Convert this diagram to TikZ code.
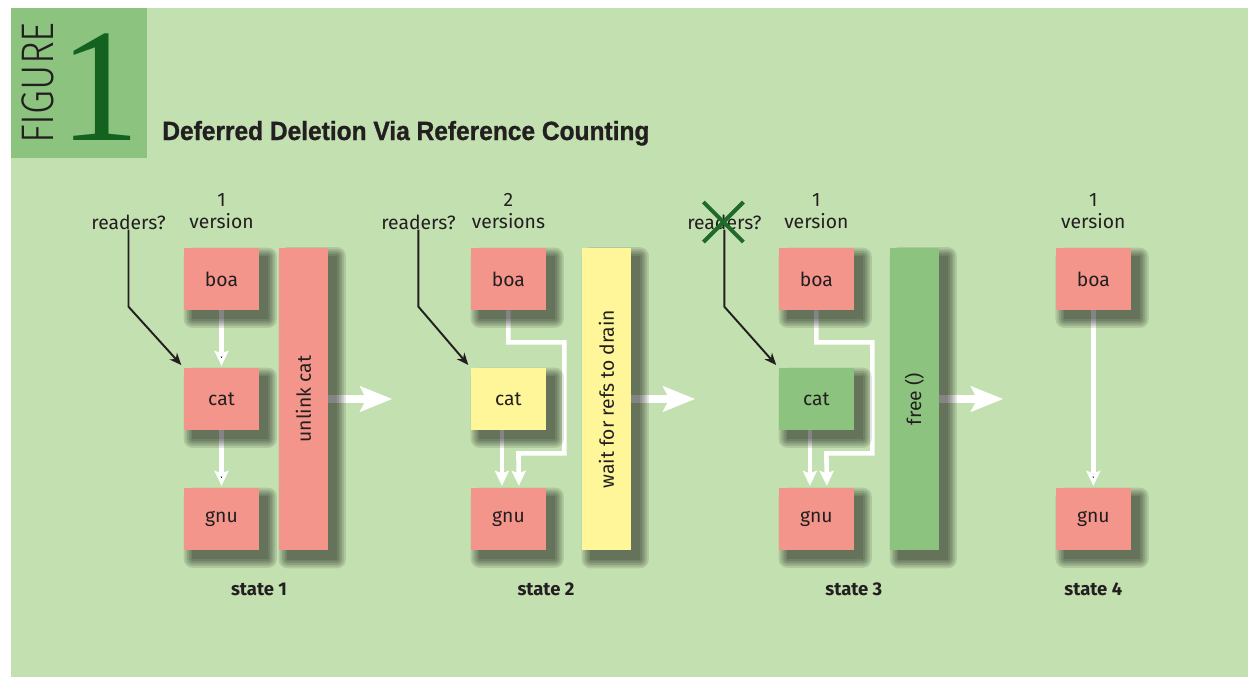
\documentclass[tikz,border=0pt]{standalone}
\usepackage{fontspec}
\setmainfont{Fira Sans}
\newfontfamily\titlefont[FakeStretch=0.93,FakeBold=1]{Liberation Sans}
\newfontfamily\digitfont{Liberation Serif}
\newfontfamily\thinfont[FakeStretch=0.85]{Fira Sans Light}
\usepackage{tikz}
\usetikzlibrary{arrows, arrows.meta, positioning}
\usepackage{xcolor}

\definecolor{leaf}{HTML}{C3E0B0}
\definecolor{fern}{HTML}{8CC47F}
\definecolor{salmon}{HTML}{F4958B}
\definecolor{butter}{HTML}{FFF699}
\definecolor{pine}{HTML}{14621F}
\definecolor{ink}{HTML}{231F20}
\definecolor{crossgreen}{HTML}{1D6A2A}

\pgfdeclarelayer{back}
\pgfdeclarelayer{links}
\pgfdeclarelayer{shade}
\pgfsetlayers{back,links,shade,main}

% soft shadow behind a node, built from stacked see-through rectangles
\newcommand{\dropshade}[1]{%
  \foreach \r in {0,1,...,5}
    \fill[black, opacity=0.1, rounded corners=\r pt]
      ([xshift={5pt-\r pt}, yshift={-5pt-\r pt}]#1.south west) rectangle
      ([xshift={5pt+\r pt}, yshift={-5pt+\r pt}]#1.north east);
}

\begin{document}
\begin{tikzpicture}[x=0.02cm, y=-0.02cm, shorten >=1pt, node distance=2.4cm, on grid, auto]
    \tikzstyle{box}=[shape=rectangle, fill=salmon, text=ink, minimum width=1.5cm, minimum height=1.24cm, inner sep=0pt, font=\fontsize{11}{13}\selectfont]
    \tikzstyle{bar}=[box, minimum width=0.98cm, minimum height=6.06cm]
    \tikzstyle{note}=[text=ink, inner sep=0pt, align=center, font=\fontsize{11}{12.5}\selectfont]
    \tikzstyle{caption}=[text=ink, inner sep=0pt, font=\fontsize{10.5}{12}\selectfont\bfseries]
    \tikzstyle{link}=[draw=white, line width=2.6pt, -{Stealth[length=0.3cm,width=0.28cm,inset=0.05cm]}]
    \tikzstyle{push}=[draw=white, line width=5pt, shorten >=0pt, -{Stealth[length=0.64cm,width=0.5cm,inset=0.12cm]}]
    \tikzstyle{reader}=[draw=ink, line width=1.1pt, shorten >=2pt, -{Stealth[length=0.24cm,width=0.2cm]}]
    \tikzstyle{cross}=[draw=crossgreen, line width=2.3pt, shorten >=0pt]

    \useasboundingbox (0,0) rectangle (1248,677);
    \begin{pgfonlayer}{back}
        \fill[leaf] (11,8) rectangle (1248,677);
        \fill[fern] (11,8) rectangle (147,158);
    \end{pgfonlayer}

    % heading
    \node[text=ink, rotate=90, inner sep=0pt, font=\thinfont\fontsize{26}{26}\selectfont] (fig) at (38,83) {FIGURE};
    \node[text=pine, anchor=base, inner sep=0pt, font=\digitfont\fontsize{92}{92}\selectfont] (one) at (100,140) {1};
    \node[text=ink, anchor=base west, inner sep=0pt, font=\titlefont\bfseries\fontsize{15}{15}\selectfont] (title) at (162,140) {Deferred Deletion Via Reference Counting};

    % state 1
    \node[box] (boa1) at (221.5,279) {boa};
    \node[box, below=of boa1] (cat1) {cat};
    \node[box, below=of cat1] (gnu1) {gnu};
    \node[bar, right=1.64cm of cat1] (bar1) {\rotatebox{90}{unlink cat}};
    \node[note, above=1.36cm of boa1] (ver1) {1\\version};
    \node[note, above left=1.14cm and 1.86cm of boa1] (rd1) {readers?};
    \node[caption, below right=1.4cm and 0.75cm of gnu1] (st1) {state 1};

    % state 2
    \node[box, right=5.74cm of boa1] (boa2) {boa};
    \node[box, fill=butter, below=of boa2] (cat2) {cat};
    \node[box, below=of cat2] (gnu2) {gnu};
    \node[bar, fill=butter, right=1.96cm of cat2] (bar2) {\rotatebox{90}{wait for refs to drain}};
    \node[note, above=1.36cm of boa2] (ver2) {2\\versions};
    \node[note, above left=1.14cm and 1.8cm of boa2] (rd2) {readers?};
    \node[caption, below right=1.4cm and 0.75cm of gnu2] (st2) {state 2};

    % state 3
    \node[box, right=6.16cm of boa2] (boa3) {boa};
    \node[box, fill=fern, below=of boa3] (cat3) {cat};
    \node[box, below=of cat3] (gnu3) {gnu};
    \node[bar, fill=fern, right=1.96cm of cat3] (bar3) {\rotatebox{90}{free ()}};
    \node[note, above=1.36cm of boa3] (ver3) {1\\version};
    \node[note, above left=1.14cm and 1.84cm of boa3] (rd3) {readers?};
    \node[caption, below right=1.4cm and 0.75cm of gnu3] (st3) {state 3};

    % state 4
    \node[box, right=5.54cm of boa3] (boa4) {boa};
    \node[box, below=4.8cm of boa4] (gnu4) {gnu};
    \node[note, above=1.36cm of boa4] (ver4) {1\\version};
    \node[caption, below=1.4cm of gnu4] (st4) {state 4};

    % no readers left
    \draw[cross] ([shift={(-21,-20)}]rd3.center) -- ++(40,40)
                 ([shift={(19,-20)}]rd3.center) -- ++(-40,40);

    \begin{pgfonlayer}{shade}
        \foreach \n in {boa1,cat1,gnu1,bar1,boa2,cat2,gnu2,bar2,boa3,cat3,gnu3,bar3,boa4,gnu4}
            {\dropshade{\n}}
    \end{pgfonlayer}

    \begin{pgfonlayer}{links}
    \path[link]
    (boa1) edge (cat1)
    (cat1) edge (gnu1)
    (boa4) edge (gnu4)
    ;
    \draw[link] (boa2.south) -- ++(0,32) -- ++(56,0) -- ++(0,111) -- ++(-46,0) -- ([xshift=0.21cm]gnu2.north);
    \draw[link] ([xshift=-0.13cm]cat2.south) -- ([xshift=-0.13cm]gnu2.north);
    \draw[link] (boa3.south) -- ++(0,32) -- ++(56,0) -- ++(0,111) -- ++(-46,0) -- ([xshift=0.21cm]gnu3.north);
    \draw[link] ([xshift=-0.13cm]cat3.south) -- ([xshift=-0.13cm]gnu3.north);

    \draw[push] (bar1.east) -- ++(64,0);
    \draw[push] (bar2.east) -- ++(64,0);
    \draw[push] (bar3.east) -- ++(64,0);

    \draw[reader] (rd1.south) -- ++(0,77) -- (cat1.north west);
    \draw[reader] (rd2.south) -- ++(0,77) -- (cat2.north west);
    \draw[reader] (rd3.south) -- ++(0,77) -- (cat3.north west);
    \end{pgfonlayer}
\end{tikzpicture}
\end{document}
